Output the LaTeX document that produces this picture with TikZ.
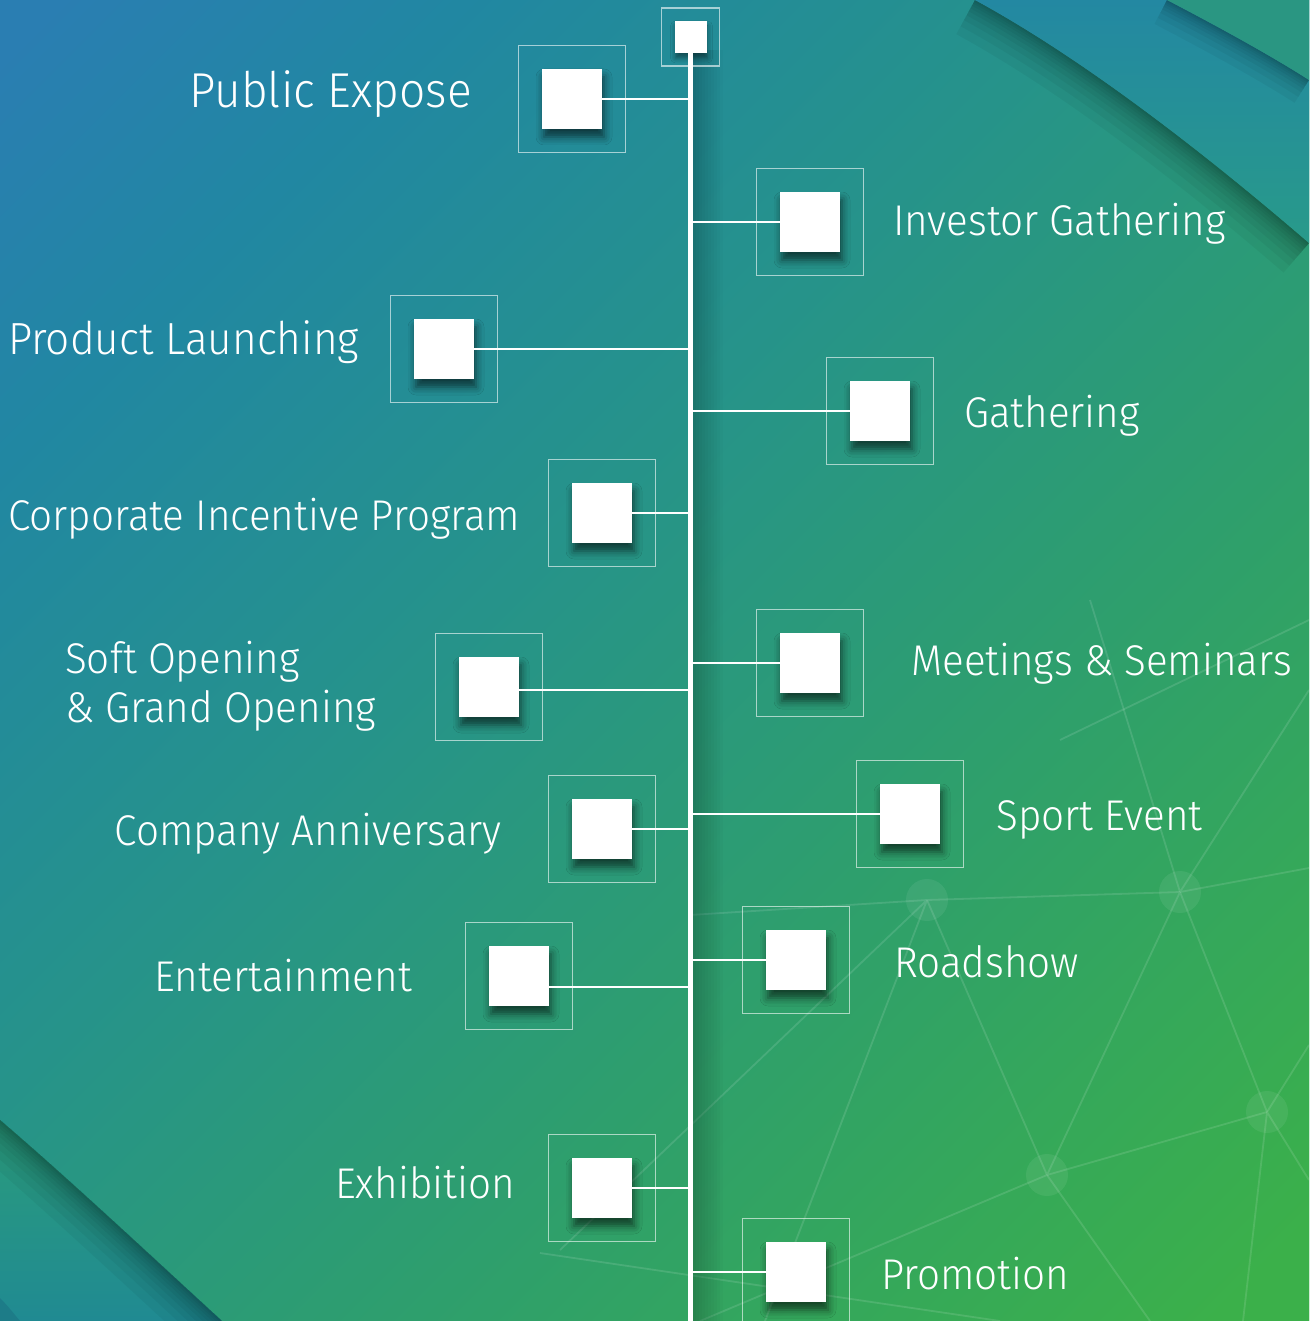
\documentclass[tikz,border=0pt]{standalone}
\usepackage{fontspec}
\setmainfont{Fira Sans Light}[FakeStretch=0.94]
\usetikzlibrary{shadows.blur}
\definecolor{cB}{HTML}{2A7EB2}
\definecolor{cTB}{HTML}{2187A2}
\definecolor{cM}{HTML}{26938A}
\definecolor{cMtwo}{HTML}{2FA06A}
\definecolor{cG}{HTML}{3BB04A}
\definecolor{cTRa}{HTML}{2388A2}
\definecolor{cTRb}{HTML}{289A8A}
\definecolor{cTRc}{HTML}{2A9682}
\definecolor{cBLa}{HTML}{2A9C7C}
\definecolor{cBLb}{HTML}{208A92}
\definecolor{cBLc}{HTML}{1D7C88}
\pgfdeclareverticalshading{bgshade}{100bp}{color(0bp)=(cG); color(17bp)=(cG); color(37bp)=(cMtwo); color(56bp)=(cM); color(73bp)=(cTB); color(84bp)=(cB); color(100bp)=(cB)}
\newcommand\lblA{\fontsize{43}{49}\selectfont}
\newcommand\lblB{\fontsize{49}{55}\selectfont}
\newcommand\lblC{\fontsize{45}{50}\selectfont}
\begin{document}
\begin{tikzpicture}[x=1pt,y=-1pt,
 frame/.style={draw=white, draw opacity=0.6, line width=1.6pt, minimum size=107pt, inner sep=0pt},
 sq/.style={fill=white, minimum size=60pt, inner sep=0pt, blur shadow={shadow xshift=2pt, shadow yshift=-8pt, shadow blur radius=8pt, shadow opacity=60}},
 sqs/.style={fill=white, minimum size=32pt, inner sep=0pt, blur shadow={shadow xshift=1pt, shadow yshift=-5pt, shadow blur radius=5pt, shadow opacity=45}},
 framesmall/.style={frame, minimum size=58pt},
 conn/.style={draw=white, line width=2.5pt},
 spine/.style={draw=white, line width=4.5pt},
 lbl/.style={text=white, inner sep=0pt, font=\lblA},
 net/.style={draw=white, draw opacity=0.12, line width=1.8pt},
 netnode/.style={fill=white, fill opacity=0.07},
 shadowline/.style={draw=black, draw opacity=0.045}
]
\useasboundingbox (0,0) rectangle (1309,1321);
\begin{scope}
\clip (0,0) rectangle (1309,1321);
\shade[top color=cTB, bottom color=cG, middle color=cM, shading angle=45] (0,0) rectangle (1309,1321);
\shade[shading=bgshade, shading angle=45] (0,0) rectangle (1309,1321);
% network pattern
\coordinate (n1) at (927,900);
\coordinate (n2) at (1180,892);
\coordinate (n3) at (1047,1175);
\coordinate (n4) at (1267,1112);
\draw[net] (n1) -- (n2) (n1) -- (n3) (n2) -- (n3) (n3) -- (n4) (n2) -- (n4);
\draw[net] (n4) -- (1309,1045) (n4) -- (1309,1180) (n4) -- (1243,1321);
\draw[net] (n3) -- (1150,1321) (n3) -- (700,1321);
\draw[net] (n1) -- (765,1321) (n1) -- (560,1250) (n1) -- (690,915);
\draw[net] (n2) -- (1309,868) (n2) -- (1090,600) (n2) -- (1309,690);
\draw[net] (1309,620) -- (1060,740);
\draw[net] (540,1253) -- (1000,1321);
\foreach \k in {n1,n2,n3,n4} \fill[netnode] (\k) circle (21);
% top-right sheets
\begin{scope}
\clip (700,0) -- (975,0) .. controls (1080,57) and (1200,149) .. (1309,243) -- (1309,700) -- (700,700) -- cycle;
\foreach \w in {4,8,13,19,26,35,46,60,78} \draw[shadowline, line width=\w pt] (975,0) .. controls (1080,57) and (1200,149) .. (1309,243);
\end{scope}
\shade[top color=cTRa, bottom color=cTRb] (975,0) .. controls (1080,57) and (1200,149) .. (1309,243) -- (1309,0) -- cycle;
\begin{scope}
\clip (1000,0) -- (1167,0) .. controls (1215,25) and (1270,55) .. (1309,80) -- (1309,300) -- (1000,300) -- cycle;
\foreach \w in {3,6,10,15,21,29,40,54} \draw[shadowline, line width=\w pt] (1167,0) .. controls (1215,25) and (1270,55) .. (1309,80);
\end{scope}
\fill[cTRc] (1167,0) .. controls (1215,25) and (1270,55) .. (1309,80) -- (1309,0) -- cycle;
% bottom-left sheet
\shade[top color=cBLa, bottom color=cBLb] (0,1120) .. controls (70,1180) and (150,1255) .. (222,1321) -- (0,1321) -- cycle;
\begin{scope}
\clip (0,1120) .. controls (70,1180) and (150,1255) .. (222,1321) -- (0,1321) -- cycle;
\foreach \w in {4,8,13,19,26,35,46,60,78} \draw[shadowline, line width=\w pt] (0,1120) .. controls (70,1180) and (150,1255) .. (222,1321);
\end{scope}
\fill[cBLc] (0,1298) .. controls (8,1306) and (14,1314) .. (20,1321) -- (0,1321) -- cycle;
% spine shadow
\foreach \i in {3,6,...,30} \fill[black, opacity=0.018] (693,50) rectangle ({693+\i},1321);
\end{scope}

% top node and spine
\node[framesmall] (ftop) at (690.5,37) {};
\node[sqs] (top) at (690.5,37) {};
\coordinate (bot) at (690.5,1321);
\draw[spine] (top.south) -- (bot);

% items
\node[frame] (fpe) at (572,99) {};
\node[sq] (pe) at (572,99) {};
\node[lbl, font=\lblB, anchor=base east] (tpe) at (472,108) {Public Expose};

\node[frame] (fig) at (810,222) {};
\node[sq] (ig) at (810,222) {};
\node[lbl, anchor=base west] (tig) at (893,236) {Investor Gathering};

\node[frame] (fpl) at (444,349) {};
\node[sq] (pl) at (444,349) {};
\node[lbl, font=\lblC, anchor=base west] (tpl) at (8,354) {Product Launching};

\node[frame] (fga) at (880,411) {};
\node[sq] (ga) at (880,411) {};
\node[lbl, anchor=base west] (tga) at (964,427) {Gathering};

\node[frame] (fci) at (602,513) {};
\node[sq] (ci) at (602,513) {};
\node[lbl, anchor=base west] (tci) at (8,530) {Corporate Incentive Program};

\node[frame] (fms) at (810,663) {};
\node[sq] (ms) at (810,663) {};
\node[lbl, anchor=base west] (tms) at (911,675) {Meetings \& Seminars};

\node[frame] (fso) at (489,687) {};
\node[sq] (so) at (489,687) {};
\node[lbl, align=left, anchor=base west] (tso) at (65,722) {Soft Opening\\\& Grand Opening};

\node[frame] (fca) at (602,829) {};
\node[sq] (ca) at (602,829) {};
\node[lbl, anchor=base east] (tca) at (502,845) {Company Anniversary};

\node[frame] (fse) at (910,814) {};
\node[sq] (se) at (910,814) {};
\node[lbl, anchor=base west] (tse) at (996,830) {Sport Event};

\node[frame] (frs) at (796,960) {};
\node[sq] (rs) at (796,960) {};
\node[lbl, anchor=base west] (trs) at (894,977) {Roadshow};

\node[frame] (fen) at (519,976) {};
\node[sq] (en) at (519,976) {};
\node[lbl, anchor=base east] (ten) at (412,991) {Entertainment};

\node[frame] (fex) at (602,1188) {};
\node[sq] (ex) at (602,1188) {};
\node[lbl, anchor=base east] (tex) at (515,1198) {Exhibition};

\node[frame] (fpr) at (796,1272) {};
\node[sq] (pr) at (796,1272) {};
\node[lbl, anchor=base west] (tpr) at (881,1289) {Promotion};

% connectors
\draw[conn] (pe.east) -- (pe.east -| bot);
\draw[conn] (ig.west) -- (ig.west -| bot);
\draw[conn] (pl.east) -- (pl.east -| bot);
\draw[conn] (ga.west) -- (ga.west -| bot);
\draw[conn] (ci.east) -- (ci.east -| bot);
\draw[conn] (ms.west) -- (ms.west -| bot);
\draw[conn] ([yshift=-3pt]so.east) -- ([yshift=-3pt]so.east -| bot);
\draw[conn] (ca.east) -- (ca.east -| bot);
\draw[conn] (se.west) -- (se.west -| bot);
\draw[conn] (rs.west) -- (rs.west -| bot);
\draw[conn] ([yshift=-11pt]en.east) -- ([yshift=-11pt]en.east -| bot);
\draw[conn] (ex.east) -- (ex.east -| bot);
\draw[conn] (pr.west) -- (pr.west -| bot);
\end{tikzpicture}
\end{document}
